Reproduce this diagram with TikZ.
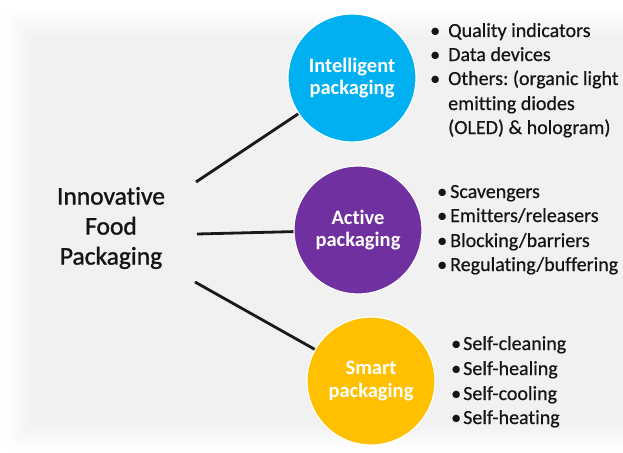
\documentclass[tikz,border=0pt]{standalone}
\usepackage{fontspec}
\setmainfont{Carlito}[Ligatures=NoCommon]
\newfontfamily\regfont{Carlito}[Ligatures=NoCommon, FakeBold=0.6]
\newfontfamily\mainfont{Carlito}[Ligatures=NoCommon, FakeBold=1.2]
\definecolor{intelc}{HTML}{00B0F0}
\definecolor{activec}{HTML}{7030A0}
\definecolor{smartc}{HTML}{FFC000}
\definecolor{txt}{HTML}{151515}
\tikzset{
  cat/.style={circle, minimum size=128pt, inner sep=0pt, draw=white, line width=1.2pt,
    text=white, align=center, font=\fontsize{20.5}{22.5}\selectfont\bfseries},
  item/.style={anchor=base west, inner sep=0pt, text=txt, font=\regfont\fontsize{20}{24}\selectfont},
  bul/.style={anchor=base west, inner sep=0pt, text=txt, font=\regfont\fontsize{20}{24}\selectfont},
  link/.style={line width=2.8pt, black!90},
}
\begin{document}
\frenchspacing
\begin{tikzpicture}[x=1pt,y=-1pt]
\useasboundingbox (0,0) rectangle (623,452);
\fill[white] (0,0) rectangle (623,452);
% soft grey panel
\foreach \i in {0,...,12}{
  \pgfmathsetmacro{\g}{0.45*\i}
  \fill[black!\g, rounded corners=8pt] (4+2.2*\i,10+2.2*\i) rectangle (640,451-2.2*\i);
}
% main text
\node[align=center, text=txt, font=\mainfont\fontsize{25.5}{30}\selectfont] (main) at (111,228)
  {Innovative\\Food\\Packaging};
% circles
\node[cat, fill=intelc] (intel) at (352,78) {Intelligent\\packaging};
\node[cat, fill=activec] (active) at (358,230) {Active\\packaging};
\node[cat, fill=smartc] (smart) at (371,381) {Smart\\packaging};
% connectors
\coordinate (l1) at (196,182);
\coordinate (l2) at (197,234);
\coordinate (l3) at (195,282);
\draw[link] (l1) -- (intel);
\draw[link] (l2) -- (active);
\draw[link] (l3) -- (smart);
% intelligent list
\node[bul] (ib1) at (430,37) {•};
\node[bul] (ib2) at (430,61) {•};
\node[bul] (ib3) at (430,85) {•};
\node[item] (i1) at (448,37) {Quality indicators};
\node[item] (i2) at (448,61) {Data devices};
\node[item] (i3) at (448,85) {Others: (organic light};
\node[item] (i4) at (448,110) {emitting diodes};
\node[item] (i5) at (448,134) {(OLED) \& hologram)};
% active list
\node[bul] (ab1) at (437,198) {•};
\node[bul] (ab2) at (437,222) {•};
\node[bul] (ab3) at (437,247) {•};
\node[bul] (ab4) at (437,271) {•};
\node[item] (a1) at (450,198) {Scavengers};
\node[item] (a2) at (450,222) {Emitters/releasers};
\node[item] (a3) at (450,247) {Blocking/barriers};
\node[item] (a4) at (450,271) {Regulating/buffering};
% smart list
\node[bul] (sb1) at (451,350) {•};
\node[bul] (sb2) at (451,375) {•};
\node[bul] (sb3) at (451,400) {•};
\node[bul] (sb4) at (451,424) {•};
\node[item] (s1) at (463,350) {Self-cleaning};
\node[item] (s2) at (463,375) {Self-healing};
\node[item] (s3) at (463,400) {Self-cooling};
\node[item] (s4) at (463,424) {Self-heating};
\end{tikzpicture}
\end{document}
